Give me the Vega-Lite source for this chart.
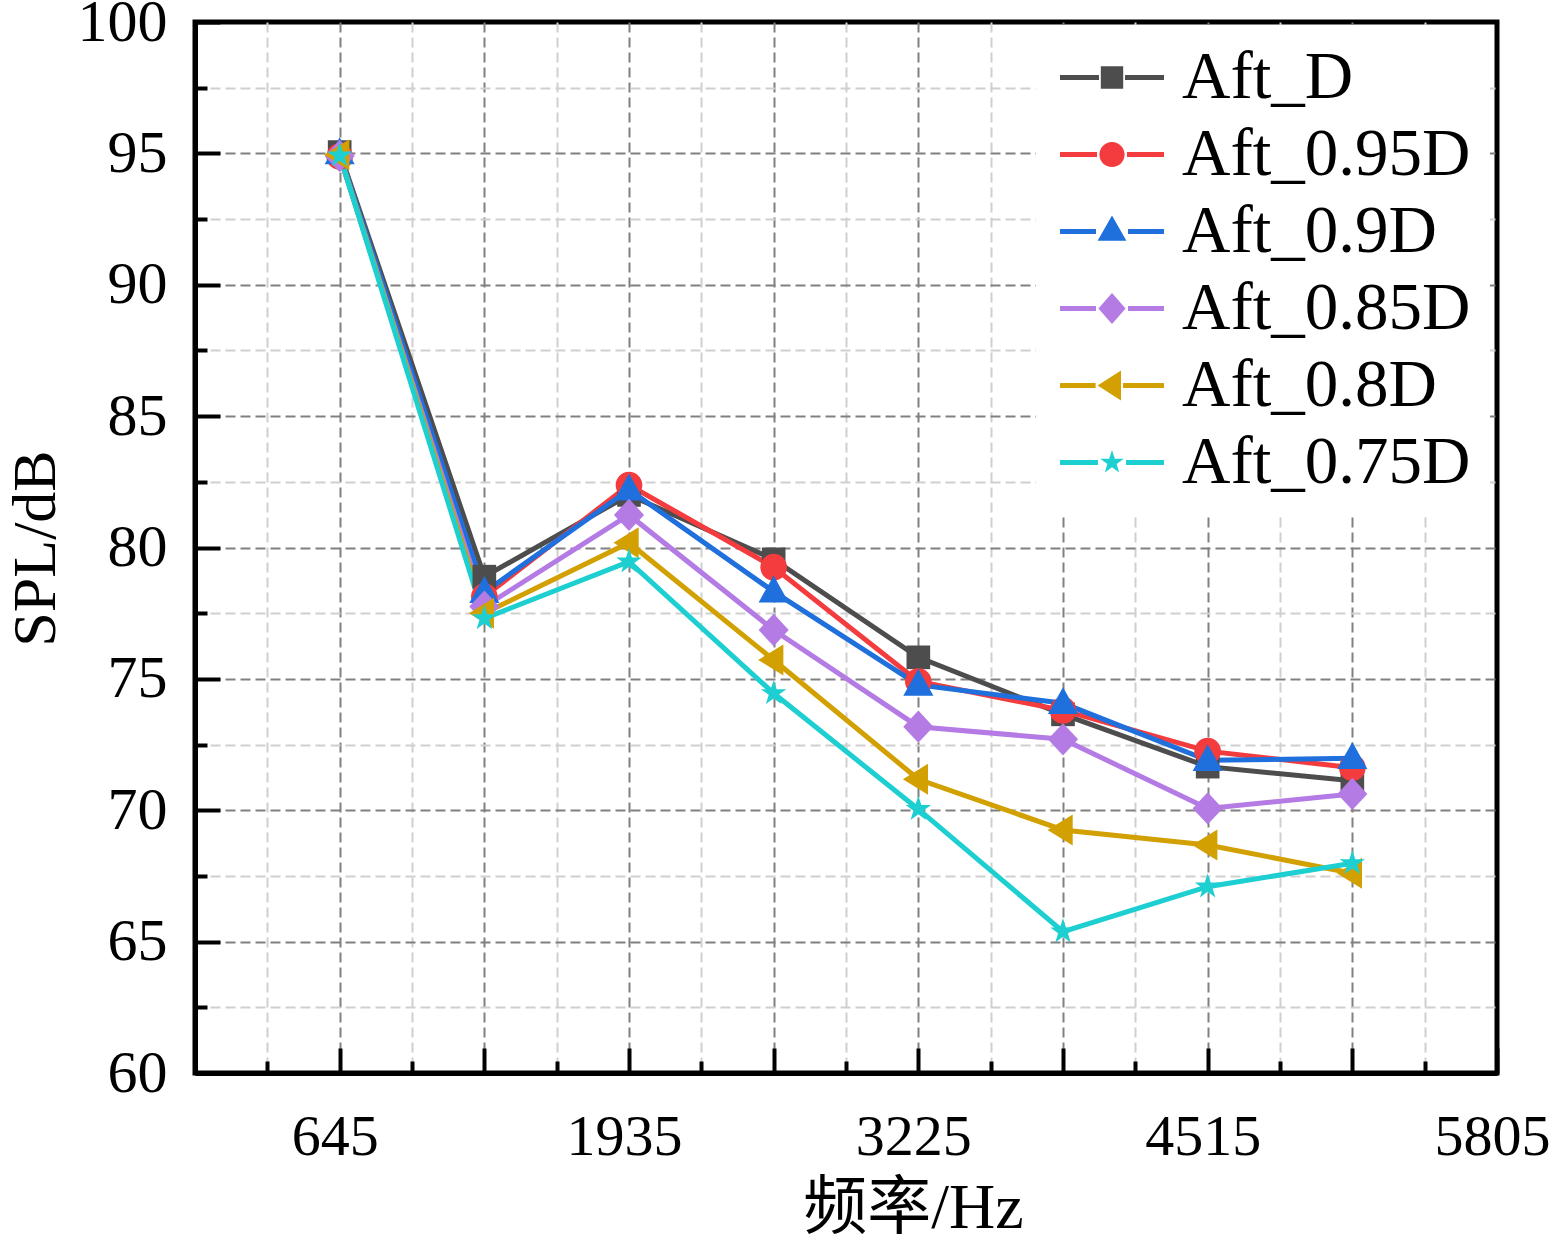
{
  "$schema": "https://vega.github.io/schema/vega-lite/v6.json",
  "width": 1302,
  "height": 1051,
  "autosize": "none",
  "padding": {"left": 195, "top": 22, "right": 55, "bottom": 168},
  "background": "white",
  "config": {
    "view": {"stroke": "black", "strokeWidth": 5},
    "font": "Liberation Serif"
  },
  "data": {
    "values": [
      {"series": "Aft_D", "f": 645, "spl": 95.05},
      {"series": "Aft_D", "f": 1290, "spl": 78.89},
      {"series": "Aft_D", "f": 1935, "spl": 82.0},
      {"series": "Aft_D", "f": 2580, "spl": 79.55},
      {"series": "Aft_D", "f": 3225, "spl": 75.82},
      {"series": "Aft_D", "f": 3870, "spl": 73.65},
      {"series": "Aft_D", "f": 4515, "spl": 71.66},
      {"series": "Aft_D", "f": 5160, "spl": 71.12},
      {"series": "Aft_0.95D", "f": 645, "spl": 94.88},
      {"series": "Aft_0.95D", "f": 1290, "spl": 78.13},
      {"series": "Aft_0.95D", "f": 1935, "spl": 82.38},
      {"series": "Aft_0.95D", "f": 2580, "spl": 79.25},
      {"series": "Aft_0.95D", "f": 3225, "spl": 74.9},
      {"series": "Aft_0.95D", "f": 3870, "spl": 73.8},
      {"series": "Aft_0.95D", "f": 4515, "spl": 72.25},
      {"series": "Aft_0.95D", "f": 5160, "spl": 71.62},
      {"series": "Aft_0.9D", "f": 645, "spl": 95.0},
      {"series": "Aft_0.9D", "f": 1290, "spl": 78.3},
      {"series": "Aft_0.9D", "f": 1935, "spl": 82.2},
      {"series": "Aft_0.9D", "f": 2580, "spl": 78.32},
      {"series": "Aft_0.9D", "f": 3225, "spl": 74.77},
      {"series": "Aft_0.9D", "f": 3870, "spl": 74.07},
      {"series": "Aft_0.9D", "f": 4515, "spl": 71.9},
      {"series": "Aft_0.9D", "f": 5160, "spl": 71.98},
      {"series": "Aft_0.85D", "f": 645, "spl": 94.9},
      {"series": "Aft_0.85D", "f": 1290, "spl": 77.75},
      {"series": "Aft_0.85D", "f": 1935, "spl": 81.24},
      {"series": "Aft_0.85D", "f": 2580, "spl": 76.86},
      {"series": "Aft_0.85D", "f": 3225, "spl": 73.18},
      {"series": "Aft_0.85D", "f": 3870, "spl": 72.7},
      {"series": "Aft_0.85D", "f": 4515, "spl": 70.07},
      {"series": "Aft_0.85D", "f": 5160, "spl": 70.62},
      {"series": "Aft_0.8D", "f": 645, "spl": 94.95},
      {"series": "Aft_0.8D", "f": 1290, "spl": 77.5},
      {"series": "Aft_0.8D", "f": 1935, "spl": 80.18},
      {"series": "Aft_0.8D", "f": 2580, "spl": 75.72},
      {"series": "Aft_0.8D", "f": 3225, "spl": 71.18},
      {"series": "Aft_0.8D", "f": 3870, "spl": 69.25},
      {"series": "Aft_0.8D", "f": 4515, "spl": 68.68},
      {"series": "Aft_0.8D", "f": 5160, "spl": 67.6},
      {"series": "Aft_0.75D", "f": 645, "spl": 94.92},
      {"series": "Aft_0.75D", "f": 1290, "spl": 77.3},
      {"series": "Aft_0.75D", "f": 1935, "spl": 79.46},
      {"series": "Aft_0.75D", "f": 2580, "spl": 74.45},
      {"series": "Aft_0.75D", "f": 3225, "spl": 70.04},
      {"series": "Aft_0.75D", "f": 3870, "spl": 65.38},
      {"series": "Aft_0.75D", "f": 4515, "spl": 67.09},
      {"series": "Aft_0.75D", "f": 5160, "spl": 67.98}
    ]
  },
  "encoding": {
    "x": {
      "field": "f",
      "type": "quantitative",
      "scale": {"domain": [0, 5805], "nice": false, "zero": false},
      "axis": {
        "values": [0, 322.5, 645, 967.5, 1290, 1612.5, 1935, 2257.5, 2580, 2902.5, 3225, 3547.5, 3870, 4192.5, 4515, 4837.5, 5160, 5482.5, 5805],
        "labelExpr": "datum.value % 1290 === 645 ? format(datum.value, 'd') : ''",
        "labelFont": "Liberation Serif",
        "labelFontSize": 58,
        "labelColor": "black",
        "labelPadding": 60,
        "labelOffset": -5,
        "labelFlush": false,
        "labelOverlap": false,
        "tickSize": {"condition": {"test": "datum.value % 645 === 0", "value": -25}, "value": -12},
        "tickWidth": 4,
        "tickColor": "black",
        "domainColor": "black",
        "domainWidth": 5,
        "grid": true,
        "gridColor": {"condition": {"test": "datum.value % 645 === 0", "value": "#808080"}, "value": "#d0d0d0"},
        "gridOpacity": {"condition": {"test": "datum.value === 0 || datum.value === 5805", "value": 0}, "value": 1},
        "gridDash": [10, 5],
        "gridWidth": 2,
        "title": "频率/Hz",
        "titleFont": "'Liberation Serif', 'Noto Sans CJK SC'",
        "titleFontSize": 64,
        "titleFontWeight": "normal",
        "titleColor": "black",
        "titleX": 718,
        "titleY": 154,
        "titleBaseline": "alphabetic",
        "titleAlign": "center"
      }
    },
    "y": {
      "field": "spl",
      "type": "quantitative",
      "scale": {"domain": [60, 100], "nice": false, "zero": false},
      "axis": {
        "values": [60, 62.5, 65, 67.5, 70, 72.5, 75, 77.5, 80, 82.5, 85, 87.5, 90, 92.5, 95, 97.5, 100],
        "labelExpr": "datum.value % 5 === 0 ? format(datum.value, 'd') : ''",
        "labelFont": "Liberation Serif",
        "labelFontSize": 60,
        "labelColor": "black",
        "labelPadding": 53,
        "labelFlush": false,
        "labelOverlap": false,
        "tickSize": {"condition": {"test": "datum.value % 5 === 0", "value": -25}, "value": -12},
        "tickWidth": 4,
        "tickColor": "black",
        "domainColor": "black",
        "domainWidth": 5,
        "grid": true,
        "gridColor": {"condition": {"test": "datum.value % 5 === 0", "value": "#808080"}, "value": "#d0d0d0"},
        "gridOpacity": {"condition": {"test": "datum.value === 60 || datum.value === 100", "value": 0}, "value": 1},
        "gridDash": [10, 5],
        "gridWidth": 2,
        "title": "SPL/dB",
        "titleFont": "Liberation Serif",
        "titleFontSize": 62,
        "titleFontWeight": "normal",
        "titleColor": "black",
        "titleX": -141,
        "titleY": 526,
        "titleAngle": -90,
        "titleBaseline": "alphabetic",
        "titleAlign": "center"
      }
    }
  },
  "layer": [
    {
      "mark": {"type": "line", "strokeWidth": 5},
      "encoding": {
        "color": {
          "field": "series",
          "type": "nominal",
          "scale": {
            "domain": ["Aft_D", "Aft_0.95D", "Aft_0.9D", "Aft_0.85D", "Aft_0.8D", "Aft_0.75D"],
            "range": ["#4d4d4d", "#f43b3d", "#1f6fdc", "#b47be4", "#d2a000", "#1dcfd0"]
          },
          "legend": null
        }
      }
    },
    {
      "mark": {"type": "point", "filled": true, "size": 1850, "opacity": 1},
      "encoding": {
        "color": {
          "field": "series",
          "type": "nominal",
          "scale": {
            "domain": ["Aft_D", "Aft_0.95D", "Aft_0.9D", "Aft_0.85D", "Aft_0.8D", "Aft_0.75D"],
            "range": ["#4d4d4d", "#f43b3d", "#1f6fdc", "#b47be4", "#d2a000", "#1dcfd0"]
          },
          "legend": null
        },
        "shape": {
          "field": "series",
          "type": "nominal",
          "scale": {
            "domain": ["Aft_D", "Aft_0.95D", "Aft_0.9D", "Aft_0.85D", "Aft_0.8D", "Aft_0.75D"],
            "range": [
              "M-0.55,-0.55H0.55V0.55H-0.55Z",
              "M0.62,0A0.62,0.62,0,1,1,-0.62,0A0.62,0.62,0,1,1,0.62,0Z",
              "M0,-0.75L0.7,0.5L-0.7,0.5Z",
              "M0,-0.75L0.7,0L0,0.75L-0.7,0Z",
              "M-0.72,0L0.45,-0.72L0.45,0.72Z",
              "M0,-0.62L0.14,-0.19L0.59,-0.19L0.23,0.07L0.36,0.5L0,0.24L-0.36,0.5L-0.23,0.07L-0.59,-0.19L-0.14,-0.19Z"
            ]
          },
          "legend": null
        }
      }
    },
    {
      "transform": [{"filter": "false"}],
      "mark": {"type": "point", "filled": true, "size": 1600, "opacity": 1},
      "encoding": {
        "color": {
          "field": "series",
          "type": "nominal",
          "scale": {
            "domain": ["Aft_D", "Aft_0.95D", "Aft_0.9D", "Aft_0.85D", "Aft_0.8D", "Aft_0.75D"],
            "range": ["#4d4d4d", "#f43b3d", "#1f6fdc", "#b47be4", "#d2a000", "#1dcfd0"]
          },
          "legend": {
            "title": null,
            "orient": "none",
            "legendX": 841,
            "legendY": 3,
            "padding": 19,
            "fillColor": "white",
            "strokeColor": null,
            "labelFont": "Liberation Serif",
            "labelFontSize": 67,
            "labelColor": "black",
            "labelLimit": 600,
            "labelOffset": 36.5,
            "symbolOffset": 23.5,
            "rowPadding": 9,
            "symbolSize": 1600,
            "symbolStrokeWidth": 0
          }
        },
        "shape": {
          "field": "series",
          "type": "nominal",
          "scale": {
            "domain": ["Aft_D", "Aft_0.95D", "Aft_0.9D", "Aft_0.85D", "Aft_0.8D", "Aft_0.75D"],
            "range": [
              "M-2.6,-0.13H-0.65V0.13H-2.6ZM0.65,-0.13H2.6V0.13H0.65ZM-0.56,-0.56H0.56V0.56H-0.56Z",
              "M-2.6,-0.13H-0.75V0.13H-2.6ZM0.75,-0.13H2.6V0.13H0.75ZM0.63,0A0.63,0.63,0,1,1,-0.63,0A0.63,0.63,0,1,1,0.63,0Z",
              "M-2.6,-0.13H-0.8V0.13H-2.6ZM0.8,-0.13H2.6V0.13H0.8ZM0,-0.8L0.72,0.46L-0.72,0.46Z",
              "M-2.6,-0.13H-0.8V0.13H-2.6ZM0.8,-0.13H2.6V0.13H0.8ZM0,-0.77L0.68,0L0,0.77L-0.68,0Z",
              "M-2.6,-0.13H-0.82V0.13H-2.6ZM0.55,-0.13H2.6V0.13H0.55ZM-0.72,0L0.45,-0.75L0.45,0.75Z",
              "M-2.6,-0.13H-0.7V0.13H-2.6ZM0.7,-0.13H2.6V0.13H0.7ZM0,-0.62L0.14,-0.19L0.59,-0.19L0.23,0.07L0.36,0.5L0,0.24L-0.36,0.5L-0.23,0.07L-0.59,-0.19L-0.14,-0.19Z"
            ]
          },
          "legend": {
            "title": null,
            "orient": "none",
            "legendX": 841,
            "legendY": 3,
            "padding": 19,
            "fillColor": "white",
            "strokeColor": null,
            "labelFont": "Liberation Serif",
            "labelFontSize": 67,
            "labelColor": "black",
            "labelLimit": 600,
            "labelOffset": 36.5,
            "symbolOffset": 23.5,
            "rowPadding": 9,
            "symbolSize": 1600,
            "symbolStrokeWidth": 0
          }
        }
      }
    }
  ],
  "resolve": {"scale": {"color": "independent", "shape": "independent"}}
}
